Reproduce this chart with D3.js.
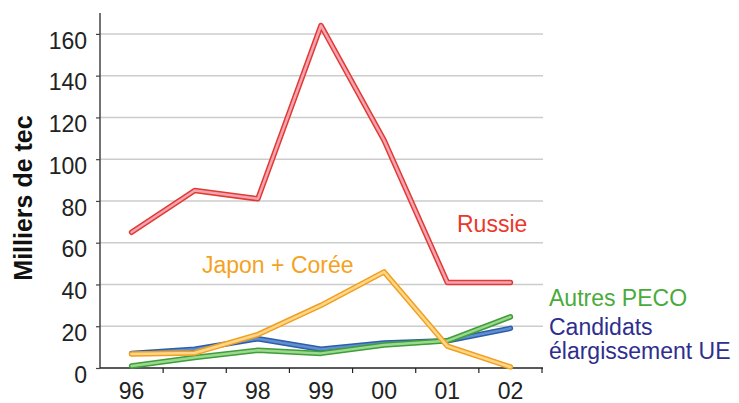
<!DOCTYPE html>
<html><head><meta charset="utf-8">
<script src="https://cdn.jsdelivr.net/npm/d3@7"></script>
<style>body{margin:0;background:#fff}svg{display:block}text{font-family:"Liberation Sans",Arial,sans-serif}</style>
</head><body>
<svg id="c" width="739" height="403"></svg>
<script>
const years = ["96","97","98","99","00","01","02"];
const yTicks = [0,20,40,60,80,100,120,140,160];
const russie = [65,85,81,164,109,41,41];
const japonCoree = [6.7,7.2,16,30,46,10.5,0.5];
const candidats = [7,9,14,9,12,13,19];
const autresPeco = [1,5,8.5,7,11,13,24.5];

const series = [
  {name:"candidats", values:candidats, outer:"#2f5ea8", inner:"#5f8fd2"},
  {name:"autres", values:autresPeco, outer:"#3e9e3a", inner:"#9cd88e"},
  {name:"japon", values:japonCoree, outer:"#f0a020", inner:"#ffd68a"},
  {name:"russie", values:russie, outer:"#e23a30", inner:"#f3a4b4"}
];

const svg = d3.select("#c");
const x = d3.scaleBand().domain(years).range([100,542]);
const y = d3.scaleLinear().domain([0,170]).range([368,13]);

// gridlines
svg.append("g").selectAll("line").data(yTicks.filter(d=>d>0)).join("line")
  .attr("x1",100).attr("x2",543).attr("y1",d=>y(d)).attr("y2",d=>y(d))
  .attr("stroke","#cccccc").attr("stroke-width",1.5);

// y axis
const ya = svg.append("g").attr("transform","translate(100,0)")
  .call(d3.axisLeft(y).tickValues(yTicks).tickSize(4).tickPadding(9));
ya.select(".domain").attr("stroke","#444").attr("stroke-width",1.5).attr("d","M0,13V368");
ya.selectAll(".tick line").attr("stroke","#444").attr("stroke-width",1.2);
ya.selectAll(".tick text").attr("font-size",23).attr("fill","#222").attr("dy","0.62em");

// x axis
const xa = svg.append("g").attr("transform","translate(0,368)")
  .call(d3.axisBottom(x).tickSize(0).tickPadding(15));
xa.select(".domain").attr("stroke","#222").attr("stroke-width",1.5).attr("d","M100,0H543");
xa.selectAll(".tick text").attr("font-size",23).attr("fill","#222").attr("dy","0.71em");
svg.append("g").selectAll("line").data(years.slice(1).concat(["end"])).join("line")
  .attr("x1",(d,i)=>100+x.step()*(i+1)).attr("x2",(d,i)=>100+x.step()*(i+1))
  .attr("y1",368).attr("y2",373).attr("stroke","#222").attr("stroke-width",1.2);

// y title
svg.append("text").attr("transform","translate(32,198) rotate(-90)")
  .attr("text-anchor","middle").attr("font-size",25).attr("font-weight","bold")
  .attr("fill","#111").text("Milliers de tec");

// lines
const line = d3.line().x((d,i)=>x(years[i])+x.bandwidth()/2).y(d=>y(d));
series.forEach(s=>{
  const g = svg.append("g");
  g.append("path").attr("d",line(s.values)).attr("fill","none").attr("stroke",s.outer)
    .attr("stroke-width",5.5).attr("stroke-linejoin","round").attr("stroke-linecap","round");
  g.append("path").attr("d",line(s.values)).attr("fill","none").attr("stroke",s.inner)
    .attr("stroke-width",2.5).attr("stroke-linejoin","round").attr("stroke-linecap","round");
});

// labels
const labels = [
  {t:"Russie", x:457, y:232, c:"#e8392c"},
  {t:"Japon + Corée", x:202, y:273, c:"#f5a21e"},
  {t:"Autres PECO", x:549, y:306, c:"#4aab3c"},
  {t:"Candidats", x:549, y:335, c:"#2e2e8e"},
  {t:"élargissement UE", x:549, y:359, c:"#2e2e8e"}
];
svg.append("g").selectAll("text").data(labels).join("text")
  .attr("x",d=>d.x).attr("y",d=>d.y).attr("fill",d=>d.c).attr("font-size",23).text(d=>d.t);
</script>
</body></html>
